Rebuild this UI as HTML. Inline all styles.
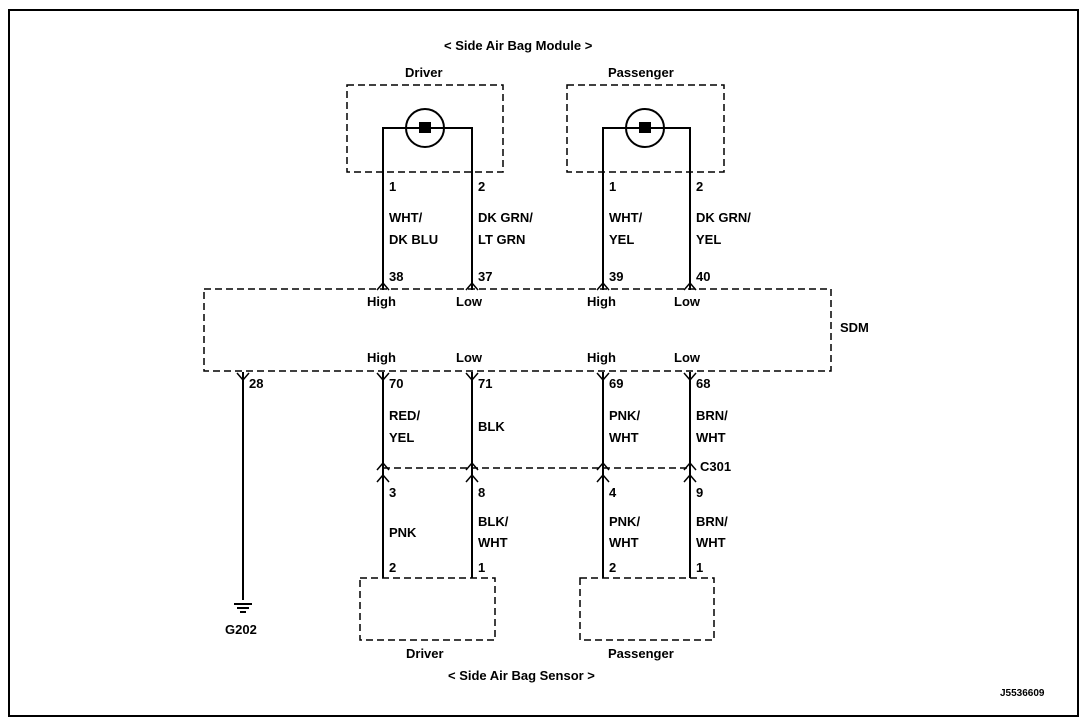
<!DOCTYPE html>
<html><head><style>body{margin:0;background:#fff}svg{display:block}text{font-family:"Liberation Sans",sans-serif;font-weight:bold;font-size:13px;fill:#000}</style></head><body>
<svg width="1088" height="726" viewBox="0 0 1088 726">
<rect x="9" y="10" width="1069" height="706" fill="none" stroke="#000" stroke-width="2"/>
<g fill="none" stroke="#000" stroke-width="1.5" stroke-dasharray="7,4">
<rect x="347" y="85" width="156" height="87"/>
<rect x="567" y="85" width="157" height="87"/>
<rect x="204" y="289" width="627" height="82"/>
<rect x="360" y="578" width="135" height="62"/>
<rect x="580" y="578" width="134" height="62"/>
<line x1="383" y1="468" x2="690" y2="468"/>
</g>
<g fill="none" stroke="#000" stroke-width="2">
<circle cx="425" cy="128" r="19"/><circle cx="645" cy="128" r="19"/>
<polyline points="383,290 383,128 472,128 472,290"/>
<polyline points="603,290 603,128 690,128 690,290"/>
<line x1="243" y1="372" x2="243" y2="600"/>
<line x1="383" y1="372" x2="383" y2="578"/><line x1="472" y1="372" x2="472" y2="578"/>
<line x1="603" y1="372" x2="603" y2="578"/><line x1="690" y1="372" x2="690" y2="578"/>
<line x1="234" y1="604" x2="252" y2="604"/><line x1="237" y1="608" x2="249" y2="608"/><line x1="240" y1="612" x2="246" y2="612"/>
</g>
<g fill="#000"><rect x="419" y="122" width="12" height="11"/><rect x="639" y="122" width="12" height="11"/></g>
<g fill="none" stroke="#000" stroke-width="1.5">
<path d="M377,290 L383,283 L389,290 M466,290 L472,283 L478,290 M597,290 L603,283 L609,290 M684,290 L690,283 L696,290"/>
<path d="M237,373 L243,380 L249,373 M377,373 L383,380 L389,373 M466,373 L472,380 L478,373 M597,373 L603,380 L609,373 M684,373 L690,380 L696,373"/>
<path d="M377,470 L383,463 L389,470 M466,470 L472,463 L478,470 M597,470 L603,463 L609,470 M684,470 L690,463 L696,470"/>
<path d="M377,482 L383,475 L389,482 M466,482 L472,475 L478,482 M597,482 L603,475 L609,482 M684,482 L690,475 L696,482"/>
</g>
<text x="444" y="50">&lt; Side Air Bag Module &gt;</text>
<text x="405" y="77">Driver</text><text x="608" y="77">Passenger</text>
<text x="389" y="191">1</text><text x="478" y="191">2</text><text x="609" y="191">1</text><text x="696" y="191">2</text>
<text x="389" y="222">WHT/</text><text x="389" y="244">DK BLU</text>
<text x="478" y="222">DK GRN/</text><text x="478" y="244">LT GRN</text>
<text x="609" y="222">WHT/</text><text x="609" y="244">YEL</text>
<text x="696" y="222">DK GRN/</text><text x="696" y="244">YEL</text>
<text x="389" y="281">38</text><text x="478" y="281">37</text><text x="609" y="281">39</text><text x="696" y="281">40</text>
<text x="367" y="306">High</text><text x="456" y="306">Low</text><text x="587" y="306">High</text><text x="674" y="306">Low</text>
<text x="840" y="332">SDM</text>
<text x="367" y="362">High</text><text x="456" y="362">Low</text><text x="587" y="362">High</text><text x="674" y="362">Low</text>
<text x="249" y="388">28</text><text x="389" y="388">70</text><text x="478" y="388">71</text><text x="609" y="388">69</text><text x="696" y="388">68</text>
<text x="389" y="420">RED/</text><text x="389" y="442">YEL</text>
<text x="478" y="431">BLK</text>
<text x="609" y="420">PNK/</text><text x="609" y="442">WHT</text>
<text x="696" y="420">BRN/</text><text x="696" y="442">WHT</text>
<text x="700" y="471">C301</text>
<text x="389" y="497">3</text><text x="478" y="497">8</text><text x="609" y="497">4</text><text x="696" y="497">9</text>
<text x="389" y="537">PNK</text>
<text x="478" y="526">BLK/</text><text x="478" y="547">WHT</text>
<text x="609" y="526">PNK/</text><text x="609" y="547">WHT</text>
<text x="696" y="526">BRN/</text><text x="696" y="547">WHT</text>
<text x="389" y="572">2</text><text x="478" y="572">1</text><text x="609" y="572">2</text><text x="696" y="572">1</text>
<text x="225" y="634">G202</text>
<text x="406" y="658">Driver</text><text x="608" y="658">Passenger</text>
<text x="448" y="680">&lt; Side Air Bag Sensor &gt;</text>
<text x="1000" y="696" style="font-size:10px">J5536609</text>
</svg>
</body></html>
